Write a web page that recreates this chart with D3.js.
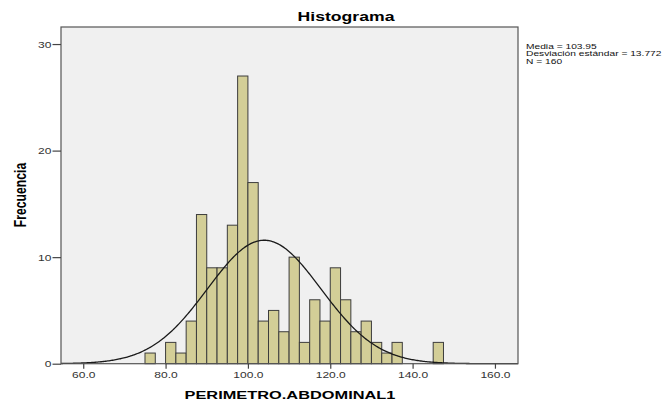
<!DOCTYPE html>
<html>
<head>
<meta charset="utf-8">
<script src="https://cdn.jsdelivr.net/npm/d3@7"></script>
<style>
  html, body { margin: 0; padding: 0; background: #fff; }
  svg { display: block; font-family: Arial, "Liberation Sans", sans-serif; }
</style>
</head>
<body>
<svg id="chart" width="670" height="400"></svg>
<script>
// Histogram of PERIMETRO.ABDOMINAL1 (bin width 2.5) with fitted normal curve
const binStarts = [75, 77.5, 80, 82.5, 85, 87.5, 90, 92.5, 95, 97.5, 100, 102.5, 105, 107.5,
                   110, 112.5, 115, 117.5, 120, 122.5, 125, 127.5, 130, 132.5, 135, 137.5,
                   140, 142.5, 145];
const counts    = [1, 0, 2, 1, 4, 14, 9, 9, 13, 27, 17, 4, 5, 3,
                   10, 2, 6, 4, 9, 6, 3, 4, 2, 1, 2, 0,
                   0, 0, 2];
const binWidth = 2.5;
const xTicks = [60, 80, 100, 120, 140, 160];
const yTicks = [0, 10, 20, 30];
const stats = { mean: 103.95, sd: 13.772, n: 160 };
const statLines = ["Media = 103.95", "Desviación estándar = 13.772", "N = 160"];
const chartTitle = "Histograma";
const xTitle = "PERIMETRO.ABDOMINAL1";
const yTitle = "Frecuencia";

const SX = 1.4; // horizontal text stretch
const svg = d3.select("#chart");
const plot = { left: 61, top: 27, right: 518, bottom: 363.7 };

const x = d3.scaleLinear().domain([54.6, 165.6]).range([plot.left, plot.right]);
const y = d3.scaleLinear().domain([0, 31.6]).range([plot.bottom, plot.top]);

function place(sel, px, py, rot) {
  sel.attr("x", 0).attr("y", 0)
     .attr("transform", `translate(${px},${py}) scale(${SX},1)` + (rot ? ` rotate(${rot})` : ""));
  return sel;
}

// plot background
svg.append("rect")
  .attr("x", plot.left).attr("y", plot.top)
  .attr("width", plot.right - plot.left).attr("height", plot.bottom - plot.top)
  .attr("fill", "#f0f0f0");

// bars
svg.append("g").selectAll("rect")
  .data(binStarts.map((s, i) => ({ s, c: counts[i] })).filter(d => d.c > 0))
  .join("rect")
  .attr("x", d => x(d.s))
  .attr("y", d => y(d.c))
  .attr("width", d => x(d.s + binWidth) - x(d.s))
  .attr("height", d => y(0) - y(d.c))
  .attr("fill", "#d3ce97")
  .attr("stroke", "#3d3d3d")
  .attr("stroke-width", 1);

// fitted normal curve
const scaleFactor = stats.n * binWidth / (stats.sd * Math.sqrt(2 * Math.PI));
const xs = d3.range(0, 401).map(i => x.domain()[0] + (x.domain()[1] - x.domain()[0]) * i / 400);
const curve = xs.map(v => [v, scaleFactor * Math.exp(-0.5 * ((v - stats.mean) / stats.sd) ** 2)]);
svg.append("path")
  .datum(curve)
  .attr("fill", "none")
  .attr("stroke", "#1a1a1a")
  .attr("stroke-width", 1.3)
  .attr("d", d3.line().x(d => x(d[0])).y(d => y(d[1])));

// frame
svg.append("rect")
  .attr("x", plot.left).attr("y", plot.top)
  .attr("width", plot.right - plot.left).attr("height", plot.bottom - plot.top)
  .attr("fill", "none").attr("stroke", "#555").attr("stroke-width", 1.2);

// x axis
const gx = svg.append("g")
  .attr("transform", `translate(0,${plot.bottom})`)
  .call(d3.axisBottom(x).tickValues(xTicks).tickFormat(d3.format(".1f")).tickSize(5).tickSizeOuter(0));
gx.select(".domain").remove();
gx.selectAll(".tick line").attr("stroke", "#444").attr("stroke-width", 1.2);
gx.selectAll(".tick text").each(function () {
  place(d3.select(this), 0, 14.5);
}).attr("dy", null).attr("font-size", 8.6).attr("fill", "#333");

// y axis
const gy = svg.append("g")
  .attr("transform", `translate(${plot.left},0)`)
  .call(d3.axisLeft(y).tickValues(yTicks).tickFormat(d3.format("d")).tickSize(8.5).tickSizeOuter(0));
gy.select(".domain").remove();
gy.selectAll(".tick line").attr("stroke", "#444").attr("stroke-width", 1.2);
gy.selectAll(".tick text").each(function () {
  place(d3.select(this), -9.5, 3);
}).attr("dy", null).attr("font-size", 8.6).attr("fill", "#333");

// titles
place(svg.append("text"), 346, 20.5)
  .attr("text-anchor", "middle").attr("font-weight", "bold").attr("font-size", 12.6)
  .text(chartTitle);
place(svg.append("text"), 290, 399)
  .attr("text-anchor", "middle").attr("font-weight", "bold").attr("font-size", 11.7)
  .text(xTitle);
place(svg.append("text"), 26, 195, -90)
  .attr("text-anchor", "middle").attr("font-weight", "bold").attr("font-size", 12.2)
  .text(yTitle);

// summary statistics
statLines.forEach((t, i) => {
  place(svg.append("text"), 526, 49 + i * 7.4)
    .attr("font-size", 7.3).attr("fill", "#111")
    .text(t);
});
</script>
</body>
</html>
